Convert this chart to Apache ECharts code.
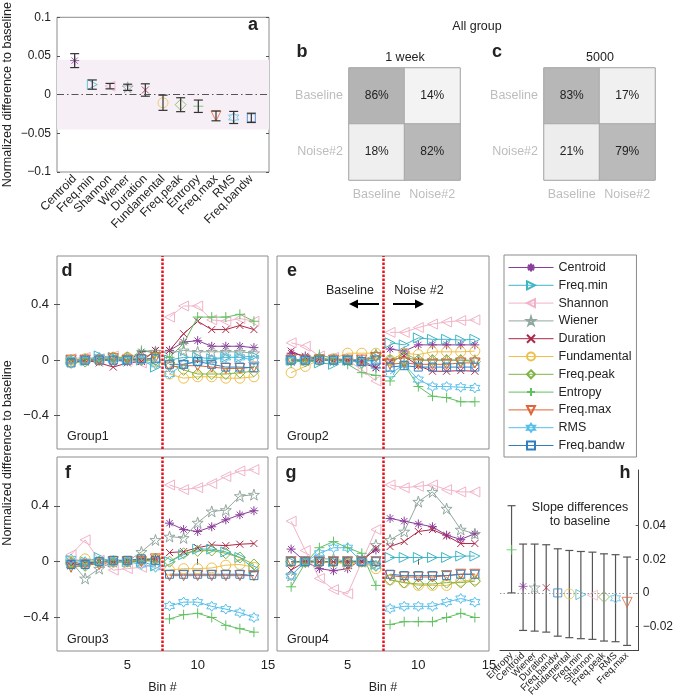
<!DOCTYPE html>
<html>
<head>
<meta charset="utf-8">
<title>Normalized differences to baseline</title>
<script src="https://cdn.jsdelivr.net/npm/echarts@6/dist/echarts.min.js"></script>
<style>
	html, body { margin: 0; padding: 0; background: #fff; }
	#chart { width: 676px; height: 699px; }
</style>
</head>
<body>
<div id="chart"></div>
<script>
var FONT = '"Liberation Sans", Arial, sans-serif';

// feature order used by panels a, d-g and the legend
var featureNames = ['Centroid', 'Freq.min', 'Shannon', 'Wiener', 'Duration', 'Fundamental', 'Freq.peak', 'Entropy', 'Freq.max', 'RMS', 'Freq.bandw'];

// panel a : mean normalized difference and error half-width
var aMean = [0.044, 0.013, 0.011, 0.0095, 0.006, -0.0105, -0.013, -0.015, -0.0275, -0.0295, -0.030];
var aErr = [0.009, 0.006, 0.0035, 0.004, 0.008, 0.0098, 0.009, 0.008, 0.0063, 0.0078, 0.006];

// panels b, c : confusion matrices (rows = true class)
var confLabels = ['Baseline', 'Noise#2'];
var conf1Week = [[86, 14], [18, 82]];
var conf5000 = [[83, 17], [21, 79]];

// panels d-g : bins 1..14, one row per feature (same order as featureNames)
var bins = [1, 2, 3, 4, 5, 6, 7, 8, 9, 10, 11, 12, 13, 14];
var group1 = [
	[0.0, 0.01, 0.0, 0.0, -0.01, 0.06, 0.07, 0.07, 0.13, 0.14, 0.10, 0.10, 0.10, 0.09],
	[0.0, 0.0, 0.03, 0.02, 0.0, 0.0, -0.05, 0.0, 0.02, 0.02, 0.01, 0.02, 0.02, 0.03],
	[0.01, 0.02, 0.01, 0.03, 0.0, -0.02, 0.02, 0.31, 0.39, 0.39, 0.29, 0.28, 0.30, 0.28],
	[0.0, 0.0, 0.01, 0.0, 0.02, 0.01, 0.06, 0.05, 0.07, 0.06, 0.06, 0.06, 0.06, 0.05],
	[0.0, 0.0, -0.02, -0.05, -0.02, -0.01, 0.07, 0.07, 0.19, 0.28, 0.22, 0.22, 0.25, 0.22],
	[0.0, 0.01, 0.0, 0.02, 0.02, 0.01, -0.01, -0.10, -0.13, -0.12, -0.12, -0.13, -0.13, -0.12],
	[-0.02, -0.01, 0.01, 0.02, 0.02, 0.0, 0.0, -0.03, -0.07, -0.10, -0.10, -0.10, -0.09, -0.08],
	[0.0, 0.01, 0.0, 0.0, 0.0, 0.07, 0.05, 0.02, 0.12, 0.31, 0.31, 0.31, 0.33, 0.28],
	[0.0, 0.0, 0.0, 0.01, 0.0, 0.0, 0.02, -0.05, -0.04, -0.04, -0.05, -0.06, -0.06, -0.05],
	[0.0, 0.0, 0.02, 0.01, 0.0, 0.0, -0.03, -0.10, -0.03, -0.01, 0.0, 0.02, 0.02, 0.0],
	[-0.02, 0.0, 0.0, 0.0, 0.0, 0.01, 0.01, -0.03, -0.03, -0.01, -0.03, -0.05, -0.05, -0.055]
];
var group2 = [
	[0.05, 0.03, 0.01, 0.0, 0.0, 0.0, -0.055, 0.08, 0.065, 0.11, 0.11, 0.11, 0.11, 0.11],
	[0.0, 0.0, -0.02, -0.03, 0.0, 0.0, 0.02, 0.125, 0.11, 0.16, 0.15, 0.15, 0.145, 0.15],
	[0.125, 0.10, 0.03, 0.02, 0.0, -0.07, -0.15, 0.20, 0.20, 0.235, 0.26, 0.275, 0.285, 0.29],
	[0.0, 0.0, 0.02, 0.0, 0.0, 0.0, 0.04, 0.0, 0.05, 0.0, 0.0, 0.0, 0.0, 0.0],
	[0.065, 0.02, 0.01, 0.0, 0.0, -0.02, -0.055, -0.01, 0.03, -0.04, -0.08, -0.08, -0.075, -0.08],
	[-0.09, -0.045, 0.0, 0.01, 0.05, 0.05, 0.05, 0.0, 0.05, 0.04, 0.06, 0.06, 0.06, 0.065],
	[0.0, -0.01, 0.0, 0.0, 0.0, -0.02, 0.03, 0.0, 0.02, 0.0, 0.0, 0.0, 0.0, -0.01],
	[-0.02, 0.0, 0.04, 0.01, -0.03, -0.09, -0.11, -0.15, -0.03, -0.19, -0.26, -0.27, -0.30, -0.30],
	[0.0, 0.0, 0.0, 0.0, 0.0, 0.0, 0.02, -0.03, -0.02, -0.03, -0.03, -0.03, -0.02, -0.02],
	[0.0, 0.0, 0.0, 0.0, 0.0, -0.02, -0.04, -0.10, -0.03, -0.14, -0.19, -0.19, -0.195, -0.20],
	[0.0, 0.0, 0.0, 0.0, 0.0, -0.01, 0.0, -0.05, -0.04, -0.05, -0.05, -0.05, -0.05, -0.05]
];
var group3 = [
	[0.0, -0.02, 0.0, 0.0, 0.0, 0.02, 0.02, 0.276, 0.23, 0.216, 0.25, 0.30, 0.336, 0.365],
	[0.01, 0.0, 0.03, 0.0, 0.0, 0.0, -0.03, 0.0, 0.05, 0.09, 0.09, 0.07, 0.03, -0.05],
	[0.05, 0.156, 0.01, -0.06, -0.05, -0.04, -0.02, 0.55, 0.516, 0.53, 0.56, 0.61, 0.65, 0.66],
	[0.0, -0.12, -0.05, 0.0, 0.0, 0.07, 0.156, 0.18, 0.17, 0.28, 0.36, 0.37, 0.47, 0.48],
	[-0.03, -0.01, 0.0, 0.0, 0.01, 0.01, 0.02, 0.065, 0.072, 0.10, 0.12, 0.115, 0.125, 0.13],
	[0.0, 0.02, 0.0, 0.0, 0.0, 0.02, 0.02, -0.06, -0.05, -0.05, -0.045, -0.025, -0.02, -0.04],
	[-0.01, -0.03, 0.0, 0.0, 0.0, 0.01, 0.02, 0.0, 0.06, 0.077, 0.08, 0.06, 0.03, -0.02],
	[-0.04, -0.03, 0.0, 0.01, 0.0, 0.01, 0.0, -0.41, -0.38, -0.37, -0.40, -0.456, -0.48, -0.505],
	[-0.04, -0.02, -0.02, 0.0, 0.0, 0.0, 0.02, -0.10, -0.10, -0.10, -0.10, -0.10, -0.10, -0.10],
	[0.02, 0.0, 0.0, 0.0, 0.0, -0.02, -0.04, -0.317, -0.29, -0.29, -0.32, -0.34, -0.365, -0.40],
	[-0.02, -0.02, 0.0, 0.01, 0.01, 0.02, 0.01, -0.09, -0.09, -0.09, -0.09, -0.09, -0.09, -0.10]
];
var group4 = [
	[0.09, 0.0, -0.05, -0.065, -0.05, 0.017, 0.084, 0.31, 0.29, 0.27, 0.25, 0.19, 0.16, 0.20],
	[0.0, 0.0, 0.0, 0.0, 0.0, 0.01, -0.02, 0.03, 0.03, 0.03, 0.03, 0.03, 0.04, 0.04],
	[0.29, 0.08, -0.12, -0.20, -0.23, 0.0, 0.23, 0.55, 0.53, 0.54, 0.55, 0.516, 0.50, 0.50],
	[-0.10, 0.0, 0.02, 0.02, 0.0, 0.0, 0.12, 0.156, 0.216, 0.43, 0.50, 0.38, 0.23, 0.20],
	[-0.06, 0.0, 0.0, 0.0, 0.0, 0.0, 0.096, 0.108, 0.144, 0.216, 0.23, 0.185, 0.13, 0.13],
	[0.0, 0.0, 0.0, 0.0, -0.02, 0.0, -0.05, -0.13, -0.15, -0.17, -0.17, -0.17, -0.14, -0.13],
	[0.0, 0.0, 0.0, 0.0, 0.0, 0.0, -0.03, -0.13, -0.15, -0.16, -0.16, -0.15, -0.15, -0.14],
	[-0.18, -0.01, 0.10, 0.144, 0.10, 0.06, -0.17, -0.45, -0.43, -0.43, -0.43, -0.40, -0.37, -0.40],
	[0.0, 0.0, 0.0, 0.0, 0.0, 0.0, 0.0, -0.10, -0.11, -0.11, -0.11, -0.10, -0.09, -0.09],
	[-0.10, 0.0, 0.06, 0.10, 0.10, 0.0, -0.03, -0.336, -0.32, -0.32, -0.32, -0.29, -0.264, -0.29],
	[0.0, 0.0, 0.0, 0.0, 0.0, 0.0, 0.0, -0.09, -0.10, -0.10, -0.10, -0.10, -0.09, -0.09]
];

// panel h : slope differences, own order
var hNames = ['Entropy', 'Centroid', 'Wiener', 'Duration', 'Freq.bandw', 'Fundamental', 'Freq.min', 'Shannon', 'Freq.peak', 'RMS', 'Freq.max'];
var hMean = [0.0256, 0.0039, 0.0033, 0.0031, 0.0, -0.0006, -0.001, -0.0014, -0.0024, -0.0032, -0.0056];
var hLow = [0.0, -0.0223, -0.0227, -0.0233, -0.0257, -0.0266, -0.0272, -0.0276, -0.0286, -0.029, -0.0312];
var hHigh = [0.0518, 0.029, 0.029, 0.0286, 0.0262, 0.0252, 0.0246, 0.0242, 0.0232, 0.0227, 0.0213];

// marker look for each feature
var SYM = {
	star: 'path://M5,0L5,10M0,5L10,5M1.5,1.5L8.5,8.5M8.5,1.5L1.5,8.5',
	right: 'path://M0,0L10,5L0,10Z',
	left: 'path://M10,0L0,5L10,10Z',
	penta: 'path://M5,0L6.123,3.455L9.755,3.455L6.817,5.59L7.939,9.045L5,6.91L2.061,9.045L3.183,5.59L0.245,3.455L3.877,3.455Z',
	cross: 'path://M0,0L10,10M10,0L0,10',
	plus: 'path://M5,0L5,10M0,5L10,5',
	down: 'path://M0,0L10,0L5,10Z',
	hexa: 'path://M5,0L6.443,2.5L9.33,2.5L7.887,5L9.33,7.5L6.443,7.5L5,10L3.557,7.5L0.67,7.5L2.113,5L0.67,2.5L3.557,2.5Z'
};
var featureStyle = {
	'Centroid': { color: '#8a3d9a', symbol: SYM.star, size: 9 },
	'Freq.min': { color: '#3fb6c6', symbol: SYM.right, size: 10 },
	'Shannon': { color: '#f2b3c6', symbol: SYM.left, size: 10 },
	'Wiener': { color: '#93a89e', symbol: SYM.penta, size: 11 },
	'Duration': { color: '#ad2848', symbol: SYM.cross, size: 7 },
	'Fundamental': { color: '#efbf4a', symbol: 'circle', size: 10 },
	'Freq.peak': { color: '#7fb547', symbol: 'diamond', size: 11 },
	'Entropy': { color: '#62c062', symbol: SYM.plus, size: 10 },
	'Freq.max': { color: '#df6536', symbol: SYM.down, size: 10 },
	'RMS': { color: '#55bfec', symbol: SYM.hexa, size: 10 },
	'Freq.bandw': { color: '#2f7fc1', symbol: 'rect', size: 8 }
};

function fmtNum(v) {
	var s = String(+(+v).toFixed(3));
	return v < 0 ? '\u2212' + s.slice(1) : s;
}

function hollow(name) {
	var st = featureStyle[name];
	return { color: 'rgba(255,255,255,0)', borderColor: st.color, borderWidth: 1 };
}

// break the line at the baseline / noise boundary
function lineData(values) {
	var out = [];
	for (var i = 0; i < values.length; i++) {
		if (bins[i] === 8) {
			out.push([7.5, '-']);
		}
		out.push([bins[i], values[i]]);
	}
	return out;
}

function heatData(m) {
	var out = [];
	for (var r = 0; r < 2; r++) {
		for (var c = 0; c < 2; c++) {
			out.push([c, 1 - r, m[r][c]]);
		}
	}
	return out;
}

function errorBarSeries(axisIndex, data, color, cap, width) {
	return {
		type: 'custom',
		xAxisIndex: axisIndex,
		yAxisIndex: axisIndex,
		silent: true,
		z: 3,
		data: data,
		encode: { x: 0, y: [1, 2] },
		renderItem: function (params, api) {
			var x = api.value(0);
			var top = api.coord([x, api.value(2)]);
			var bot = api.coord([x, api.value(1)]);
			var st = { stroke: color, lineWidth: width };
			return {
				type: 'group',
				children: [
					{ type: 'line', shape: { x1: top[0], y1: top[1], x2: bot[0], y2: bot[1] }, style: st },
					{ type: 'line', shape: { x1: top[0] - cap, y1: top[1], x2: top[0] + cap, y2: top[1] }, style: st },
					{ type: 'line', shape: { x1: bot[0] - cap, y1: bot[1], x2: bot[0] + cap, y2: bot[1] }, style: st }
				]
			};
		}
	};
}

var BORDER = '#8c8c8c';
var TEXT = '#222';
var tickStyle = { color: '#555', width: 1 };

var grids = [
	{ left: 57, top: 13, width: 212, height: 159 },   // a
	{ left: 349, top: 68, width: 111, height: 112 },  // b
	{ left: 544, top: 68, width: 111, height: 112 },  // c
	{ left: 57, top: 256, width: 211, height: 193 },  // d
	{ left: 277, top: 256, width: 212, height: 193 }, // e
	{ left: 57, top: 457, width: 211, height: 194 },  // f
	{ left: 277, top: 457, width: 212, height: 194 }, // g
	{ left: 500, top: 470, width: 142, height: 181 }  // h
];
grids.forEach(function (g, i) {
	g.show = i !== 7;
	g.borderColor = (i === 1 || i === 2) ? '#a8a8a8' : BORDER;
	g.borderWidth = 1;
	g.backgroundColor = 'rgba(0,0,0,0)';
	g.containLabel = false;
});

var catTicks = [1, 2, 3, 4, 5, 6, 7, 8, 9, 10, 11];
// h labels get empty end slots so that no real name is dropped as "overlapping"
var hLabelSlots = [0, 1, 2, 3, 4, 5, 6, 7, 8, 9, 10, 11, 12];
var xAxes = [];
var yAxes = [];

// a
xAxes.push({
	gridIndex: 0, type: 'value', min: 0, max: 12,
	axisLine: { show: false }, splitLine: { show: false },
	axisTick: { inside: true, length: 3, customValues: catTicks, lineStyle: tickStyle },
	axisLabel: {
		customValues: catTicks, rotate: 45, fontSize: 12, color: TEXT, margin: 5,
		showMinLabel: true, showMaxLabel: true,
		formatter: function (v) { return featureNames[Math.round(v) - 1]; }
	}
});
yAxes.push({
	gridIndex: 0, type: 'value', min: -0.1, max: 0.1, interval: 0.05,
	axisLine: { show: false }, splitLine: { show: false },
	axisTick: { inside: true, length: 3, lineStyle: tickStyle },
	axisLabel: { fontSize: 12, color: TEXT, formatter: fmtNum, margin: 6 },
	name: 'Normalized difference to baseline', nameLocation: 'middle', nameGap: 43,
	nameTextStyle: { fontSize: 12.5, color: TEXT }
});

// b, c
[1, 2].forEach(function (gi) {
	xAxes.push({
		gridIndex: gi, type: 'category', data: confLabels,
		axisLine: { show: false }, axisTick: { show: false }, splitLine: { show: false },
		axisLabel: { interval: 0, fontSize: 12.5, color: '#bdbdbd', margin: 8 }
	});
	yAxes.push({
		gridIndex: gi, type: 'category', data: confLabels.slice().reverse(),
		axisLine: { show: false }, axisTick: { show: false }, splitLine: { show: false },
		axisLabel: { interval: 0, fontSize: 12.5, color: '#bdbdbd', margin: 6 }
	});
});

// d, e, f, g
[3, 4, 5, 6].forEach(function (gi) {
	var showX = gi >= 5;
	var showY = gi === 3 || gi === 5;
	xAxes.push({
		gridIndex: gi, type: 'value', min: 0, max: 15,
		axisLine: { show: false }, splitLine: { show: false },
		axisTick: { inside: true, length: 3, customValues: [5, 10], lineStyle: tickStyle },
		axisLabel: { show: showX, customValues: [5, 10, 15], showMaxLabel: true, fontSize: 13, color: TEXT, margin: 8 },
		name: showX ? 'Bin #' : '', nameLocation: 'middle', nameGap: 30,
		nameTextStyle: { fontSize: 12.5, color: TEXT }
	});
	yAxes.push({
		gridIndex: gi, type: 'value', min: -0.64, max: 0.75,
		axisLine: { show: false }, splitLine: { show: false },
		axisTick: { inside: true, length: 3, customValues: [-0.4, 0, 0.4], lineStyle: tickStyle },
		axisLabel: { show: showY, customValues: [-0.4, 0, 0.4], fontSize: 13, color: TEXT, formatter: fmtNum, margin: 8 }
	});
});

// h
xAxes.push({
	gridIndex: 7, type: 'value', min: 0, max: 12,
	axisLine: { show: true, onZero: false, lineStyle: { color: '#444', width: 1 } },
	splitLine: { show: false }, axisTick: { show: false },
	axisLabel: {
		customValues: hLabelSlots, rotate: 45, fontSize: 9.5, color: TEXT, margin: 4,
		hideOverlap: false,
		formatter: function (v) {
			var n = Math.round(v);
			return (n >= 1 && n <= hNames.length) ? hNames[n - 1] : '';
		}
	}
});
yAxes.push({
	gridIndex: 7, type: 'value', position: 'right', min: -0.034, max: 0.073,
	axisLine: { show: true, onZero: false, lineStyle: { color: '#444', width: 1 } },
	splitLine: { show: false },
	axisTick: { inside: true, length: 3, customValues: [-0.02, 0, 0.02, 0.04], lineStyle: tickStyle },
	axisLabel: { customValues: [-0.02, 0, 0.02, 0.04], fontSize: 12, color: TEXT, formatter: fmtNum, margin: 4 }
});

// mirrored ticks on top / right of the boxed panels (d-g, a)
[3, 4, 5, 6].forEach(function (gi) {
	xAxes.push({
		gridIndex: gi, type: 'value', position: 'top', min: 0, max: 15,
		axisLine: { show: false }, splitLine: { show: false }, axisLabel: { show: false },
		axisTick: { inside: true, length: 3, customValues: [5, 10], lineStyle: tickStyle }
	});
	yAxes.push({
		gridIndex: gi, type: 'value', position: 'right', min: -0.64, max: 0.75,
		axisLine: { show: false }, splitLine: { show: false }, axisLabel: { show: false },
		axisTick: { inside: true, length: 3, customValues: [-0.4, 0, 0.4], lineStyle: tickStyle }
	});
});
yAxes.push({
	gridIndex: 0, type: 'value', position: 'right', min: -0.1, max: 0.1, interval: 0.05,
	axisLine: { show: false }, splitLine: { show: false }, axisLabel: { show: false },
	axisTick: { inside: true, length: 3, lineStyle: tickStyle }
});

var series = [];

// b, c heatmaps (series 0 and 1, used by visualMap)
[[1, conf1Week], [2, conf5000]].forEach(function (p) {
	series.push({
		type: 'heatmap',
		xAxisIndex: p[0],
		yAxisIndex: p[0],
		data: heatData(p[1]),
		silent: true,
		itemStyle: { borderColor: '#a8a8a8', borderWidth: 1 },
		label: {
			show: true, fontSize: 12, color: TEXT,
			formatter: function (d) { return d.value[2] + '%'; }
		}
	});
});

// a : markers with error bars, shaded band and dash-dot zero line
var aBars = [];
var aPoints = [];
for (var i = 0; i < featureNames.length; i++) {
	aBars.push([i + 1, aMean[i] - aErr[i], aMean[i] + aErr[i]]);
	aPoints.push({
		value: [i + 1, aMean[i]],
		symbol: featureStyle[featureNames[i]].symbol,
		symbolSize: featureStyle[featureNames[i]].size,
		itemStyle: hollow(featureNames[i])
	});
}
series.push({
	type: 'scatter', name: 'a-points', xAxisIndex: 0, yAxisIndex: 0,
	data: aPoints, silent: true, z: 2,
	markArea: {
		silent: true,
		itemStyle: { color: '#f6eff6' },
		data: [[{ yAxis: -0.045 }, { yAxis: 0.045 }]]
	},
	markLine: {
		silent: true, symbol: ['none', 'none'], label: { show: false },
		lineStyle: { color: '#555', width: 1, type: [7, 3, 1.5, 3] },
		data: [{ yAxis: 0 }]
	}
});
series.push(errorBarSeries(0, aBars, '#333', 4.5, 1.2));

// d-g line panels
var groups = [group1, group2, group3, group4];
groups.forEach(function (grp, gIdx) {
	var axisIndex = 3 + gIdx;
	for (var k = 0; k < featureNames.length; k++) {
		var name = featureNames[k];
		var st = featureStyle[name];
		var s = {
			type: 'line',
			name: name,
			xAxisIndex: axisIndex,
			yAxisIndex: axisIndex,
			data: lineData(grp[k]),
			symbol: st.symbol,
			symbolSize: st.size,
			showAllSymbol: true,
			connectNulls: false,
			silent: true,
			z: 3,
			lineStyle: { color: st.color, width: 1 },
			itemStyle: hollow(name)
		};
		if (k === featureNames.length - 1) {
			s.markLine = {
				silent: true, symbol: ['none', 'none'], label: { show: false }, z: 6,
				lineStyle: { color: '#e3141c', width: 2.5, type: [2.5, 1.5] },
				data: [{ xAxis: 7.5 }]
			};
		}
		series.push(s);
	}
});

// h : slope differences
var hBars = [];
var hPoints = [];
for (var j = 0; j < hNames.length; j++) {
	hBars.push([j + 1, hLow[j], hHigh[j]]);
	hPoints.push({
		value: [j + 1, hMean[j]],
		symbol: featureStyle[hNames[j]].symbol,
		symbolSize: featureStyle[hNames[j]].size,
		itemStyle: hollow(hNames[j])
	});
}
series.push(errorBarSeries(7, hBars, '#555', 4, 1.2));
series.push({
	type: 'scatter', name: 'h-points', xAxisIndex: 7, yAxisIndex: 7,
	data: hPoints, silent: true, z: 4,
	markLine: {
		silent: true, symbol: ['none', 'none'], label: { show: false },
		lineStyle: { color: '#999', width: 1, type: [1.5, 2] },
		data: [{ yAxis: 0 }]
	}
});

function txt(x, y, text, size, opts) {
	opts = opts || {};
	return {
		type: 'text', x: x, y: y, silent: true, rotation: opts.rotation || 0,
		style: {
			text: text, fill: opts.color || TEXT,
			font: (opts.bold ? 'bold ' : '') + size + 'px ' + FONT,
			textAlign: opts.align || 'center', textVerticalAlign: 'middle'
		}
	};
}

var graphics = [
	txt(253, 25, 'a', 18, { bold: true }),
	txt(302, 52, 'b', 18, { bold: true }),
	txt(497, 52, 'c', 18, { bold: true }),
	txt(67, 271, 'd', 18, { bold: true }),
	txt(292, 271, 'e', 18, { bold: true }),
	txt(68, 473, 'f', 18, { bold: true }),
	txt(291, 473, 'g', 18, { bold: true }),
	txt(625, 473, 'h', 18, { bold: true }),
	txt(477, 27, 'All group', 12.5),
	txt(405, 58, '1 week', 12.5),
	txt(600, 58, '5000', 12.5),
	txt(67, 437, 'Group1', 12.5, { align: 'left' }),
	txt(287, 437, 'Group2', 12.5, { align: 'left' }),
	txt(67, 640, 'Group3', 12.5, { align: 'left' }),
	txt(287, 640, 'Group4', 12.5, { align: 'left' }),
	txt(350, 291, 'Baseline', 12.5),
	txt(419, 291, 'Noise #2', 12.5),
	txt(580, 508, 'Slope differences', 12.5),
	txt(580, 522, 'to baseline', 12.5),
	txt(8, 453, 'Normalized difference to baseline', 12.5, { rotation: Math.PI / 2 }),
	// arrows in panel e
	{ type: 'line', silent: true, shape: { x1: 379, y1: 304, x2: 357, y2: 304 }, style: { stroke: '#000', lineWidth: 2 } },
	{ type: 'polygon', silent: true, shape: { points: [[349, 304], [358, 299.5], [358, 308.5]] }, style: { fill: '#000' } },
	{ type: 'line', silent: true, shape: { x1: 393, y1: 304, x2: 415, y2: 304 }, style: { stroke: '#000', lineWidth: 2 } },
	{ type: 'polygon', silent: true, shape: { points: [[424, 304], [415, 299.5], [415, 308.5]] }, style: { fill: '#000' } }
];

var chart = echarts.init(document.getElementById('chart'), null, { renderer: 'canvas' });
chart.setOption({
	animation: false,
	backgroundColor: '#fff',
	textStyle: { fontFamily: FONT },
	grid: grids,
	xAxis: xAxes,
	yAxis: yAxes,
	visualMap: {
		show: false, seriesIndex: [0, 1], min: 0, max: 100, dimension: 2,
		inRange: { color: ['#ffffff', '#a8a8a8'] }
	},
	legend: {
		data: featureNames,
		orient: 'vertical',
		left: 504,
		top: 255,
		selectedMode: false,
		itemWidth: 45,
		itemHeight: 10,
		itemGap: 4.8,
		padding: [6, 5, 5, 4],
		borderColor: BORDER,
		borderWidth: 1,
		lineStyle: { width: 1 },
		textStyle: { fontSize: 12.5, color: TEXT, padding: [0, 0, 0, 0] }
	},
	series: series,
	graphic: graphics
});
</script>
</body>
</html>
